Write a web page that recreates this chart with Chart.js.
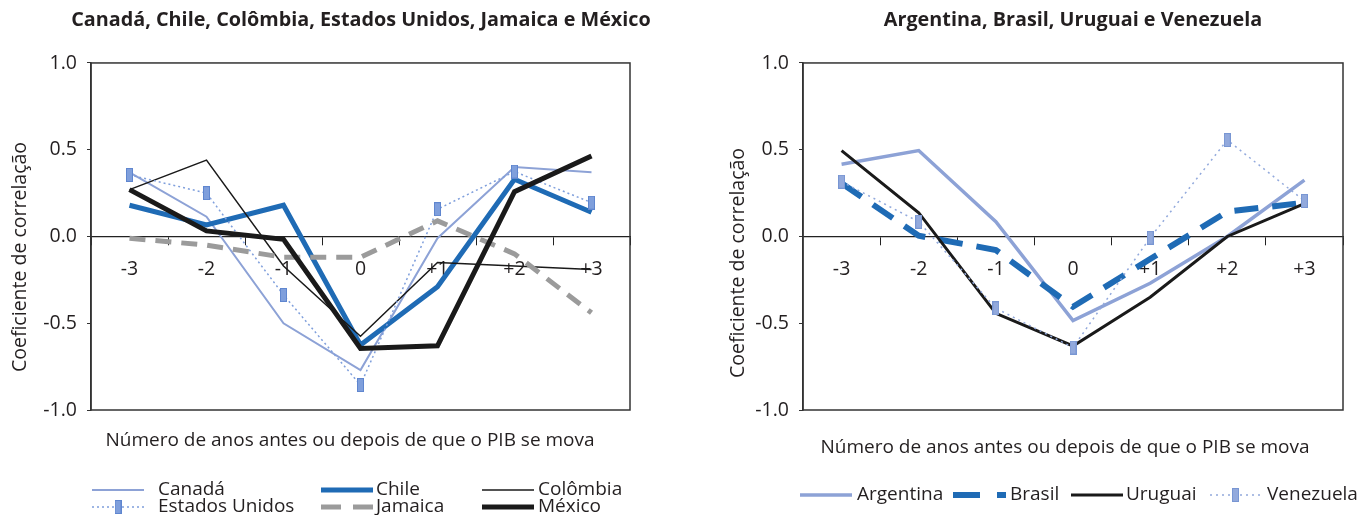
<!DOCTYPE html>
<html><head><meta charset="utf-8">
<script src="https://cdn.jsdelivr.net/npm/chart.js@4.4.1/dist/chart.umd.min.js"></script>
<style>
html,body{margin:0;padding:0;background:#fff;overflow:hidden;width:1360px;height:515px;position:relative;}
#left{position:absolute;left:0;top:0;}
#right{position:absolute;left:680px;top:0;}
</style></head><body>
<canvas id="left" width="722" height="515"></canvas>
<canvas id="right" width="786" height="515"></canvas>
<script>
// ---- data ----
const categories = ['-3', '-2', '-1', '0', '+1', '+2', '+3'];
const yTickValues = [-1, -0.5, 0, 0.5, 1];

const titleLeft = 'Canadá, Chile, Colômbia, Estados Unidos, Jamaica e México';
const titleRight = 'Argentina, Brasil, Uruguai e Venezuela';
const yAxisTitle = 'Coeficiente de correlação';
const xAxisTitle = 'Número de anos antes ou depois de que o PIB se mova';

const canada       = [0.37, 0.114, -0.50, -0.77, -0.01, 0.40, 0.37];
const chile        = [0.18, 0.066, 0.18, -0.625, -0.29, 0.33, 0.14];
const colombia     = [0.27, 0.44, -0.17, -0.575, -0.15, -0.17, -0.19];
const estadosUnidos= [0.355, 0.25, -0.337, -0.856, 0.157, 0.374, 0.195];
const jamaica      = [-0.01, -0.05, -0.12, -0.12, 0.09, -0.10, -0.44];
const mexico       = [0.27, 0.032, -0.016, -0.645, -0.63, 0.258, 0.464];

const argentina    = [0.416, 0.495, 0.085, -0.485, -0.27, 0.0, 0.325];
const brasil       = [0.307, 0.004, -0.078, -0.405, -0.13, 0.143, 0.195];
const uruguai      = [0.495, 0.137, -0.443, -0.631, -0.35, 0.0, 0.19];
const venezuela    = [0.316, 0.085, -0.414, -0.64, -0.007, 0.556, 0.205];

// ---- styling ----
const FONT = '"Open Sans", "DejaVu Sans", sans-serif';
const TXT = '#231f20';
const LIGHT = '#8da2d6';
const BLUE = '#1f6bb5';
const GRAY = '#9b9b9b';
const BLACK = '#1a1a1a';

function rectMarker(fill, stroke, w, h) {
  const c = document.createElement('canvas');
  c.width = w; c.height = h;
  const g = c.getContext('2d');
  g.fillStyle = fill; g.fillRect(0, 0, w, h);
  g.strokeStyle = stroke; g.lineWidth = 1; g.strokeRect(0.5, 0.5, w - 1, h - 1);
  return c;
}
const markerLeft = rectMarker('#7f9fdc', '#5f86cf', 7, 14);
const markerRight = rectMarker('#92a9dc', '#7896d3', 7, 14);

function line(label, data, color, width, dash, extra) {
  return Object.assign({
    label, data, borderColor: color, backgroundColor: color, borderWidth: width,
    borderDash: dash || [], pointRadius: 0, pointHoverRadius: 0, tension: 0, fill: false,
    borderJoinStyle: 'miter', borderCapStyle: 'butt'
  }, extra || {});
}

const framePlugin = {
  id: 'frame',
  beforeDatasetsDraw(chart) {
    const a = chart.chartArea, ctx = chart.ctx;
    ctx.save();
    ctx.strokeStyle = '#333'; ctx.lineWidth = 1.5;
    ctx.strokeRect(a.left, a.top, a.right - a.left, a.bottom - a.top);
    ctx.restore();
  }
};

const textPlugin = {
  id: 'extraText',
  afterDraw(chart, args, o) {
    const ctx = chart.ctx;
    ctx.save();
    ctx.fillStyle = TXT;
    ctx.textAlign = 'center'; ctx.textBaseline = 'middle';
    ctx.font = '19px ' + FONT;
    ctx.fillText(o.xTitle.text, o.xTitle.x, o.xTitle.y);
    ctx.translate(o.yTitle.x, o.yTitle.y);
    ctx.rotate(-Math.PI / 2);
    ctx.font = '19.5px ' + FONT;
    ctx.fillText(o.yTitle.text, 0, 0);
    ctx.restore();
  }
};

const legendPlugin = {
  id: 'customLegend',
  afterDraw(chart, args, o) {
    const ctx = chart.ctx;
    ctx.save();
    o.items.forEach(it => {
      const ds = chart.data.datasets[it.dataset];
      ctx.beginPath();
      ctx.strokeStyle = ds.borderColor;
      ctx.lineWidth = ds.borderWidth;
      ctx.setLineDash(it.dash || ds.borderDash || []);
      ctx.moveTo(it.x1, it.y); ctx.lineTo(it.x2, it.y); ctx.stroke();
      ctx.setLineDash([]);
      if (ds.pointStyle && typeof ds.pointStyle === 'object') {
        const m = ds.pointStyle;
        ctx.drawImage(m, (it.x1 + it.x2) / 2 - m.width / 2, it.y - m.height / 2);
      }
      ctx.fillStyle = TXT;
      ctx.font = '19px ' + FONT;
      ctx.textAlign = 'left'; ctx.textBaseline = 'middle';
      ctx.fillText(ds.label, it.tx, it.y);
    });
    ctx.restore();
  }
};

function makeOptions(cfg) {
  return {
    responsive: false,
    animation: false,
    events: [],
    layout: { padding: { left: 0, right: 0, top: 0, bottom: 105 } },
    scales: {
      x: {
        type: 'category',
        labels: categories,
        offset: true,
        position: { y: 0 },
        grid: { display: true, offset: true, drawOnChartArea: false, drawTicks: true, tickLength: 8, color: '#222', lineWidth: 1 },
        border: { display: true, color: '#222', width: 1.3 },
        ticks: { padding: 13, color: TXT, font: { family: FONT, size: 19.5 }, maxRotation: 0, autoSkip: false },
        afterFit(scale) { scale.height = 0; }
      },
      y: {
        min: -1, max: 1,
        position: 'left',
        afterBuildTicks(scale) { scale.ticks = yTickValues.map(v => ({ value: v })); },
        ticks: { padding: 10, color: TXT, font: { family: FONT, size: 19.5 }, callback: v => Number(v).toFixed(1) },
        grid: { display: true, drawOnChartArea: false, drawTicks: true, tickLength: 4, color: '#333' },
        border: { display: true, color: '#333', width: 1.5 },
        afterFit(scale) { scale.width = cfg.yWidth; scale.paddingTop = 0; scale.paddingBottom = 0; }
      },
      spacer: {
        type: 'linear',
        position: 'right',
        min: -1, max: 1,
        ticks: { display: false },
        grid: { display: false },
        border: { display: false },
        afterFit(scale) { scale.width = cfg.rightWidth; scale.paddingTop = 0; scale.paddingBottom = 0; }
      }
    },
    plugins: {
      legend: { display: false },
      tooltip: { enabled: false },
      title: {
        display: true, text: cfg.title, fullSize: true, color: TXT,
        font: { family: FONT, size: 19.8, weight: 'bold' },
        padding: { top: 8, bottom: 31.2 }
      },
      extraText: { xTitle: { text: xAxisTitle, x: cfg.xTitleX, y: cfg.xTitleY }, yTitle: { text: yAxisTitle, x: cfg.yTitleX, y: cfg.yTitleY } },
      customLegend: { items: cfg.legend }
    }
  };
}

new Chart(document.getElementById('left'), {
  type: 'line',
  data: {
    labels: categories,
    datasets: [
      line('Canadá', canada, LIGHT, 2, [], { order: 6 }),
      line('Chile', chile, BLUE, 5, [], { order: 5 }),
      line('Colômbia', colombia, BLACK, 1.5, [], { order: 4 }),
      line('Estados Unidos', estadosUnidos, '#7f9fdc', 1.5, [2, 3], { order: 3, pointStyle: markerLeft, pointRadius: 4 }),
      line('Jamaica', jamaica, GRAY, 5, [16, 10], { order: 2 }),
      line('México', mexico, BLACK, 5, [], { order: 1 })
    ]
  },
  options: makeOptions({
    title: titleLeft, rightWidth: 92, yWidth: 91,
    xTitleX: 350, xTitleY: 441, yTitleX: 20, yTitleY: 257,
    legend: [
      { dataset: 0, x1: 92, x2: 144, y: 490, tx: 158 },
      { dataset: 1, x1: 321, x2: 373, y: 490, tx: 376 },
      { dataset: 2, x1: 482, x2: 534, y: 490, tx: 538 },
      { dataset: 3, x1: 92, x2: 144, y: 507, tx: 158 },
      { dataset: 4, x1: 321, x2: 373, y: 507, tx: 376, dash: [20, 12] },
      { dataset: 5, x1: 482, x2: 534, y: 507, tx: 538 }
    ]
  }),
  plugins: [framePlugin, textPlugin, legendPlugin]
});

new Chart(document.getElementById('right'), {
  type: 'line',
  data: {
    labels: categories,
    datasets: [
      line('Argentina', argentina, LIGHT, 3.5, [], { order: 4 }),
      line('Brasil', brasil, BLUE, 6, [24, 14], { order: 3 }),
      line('Uruguai', uruguai, BLACK, 3, [], { order: 2 }),
      line('Venezuela', venezuela, '#92a9dc', 1.5, [2, 4], { order: 1, pointStyle: markerRight, pointRadius: 4 })
    ]
  },
  options: makeOptions({
    title: titleRight, rightWidth: 123, yWidth: 123,
    xTitleX: 385, xTitleY: 448, yTitleX: 58, yTitleY: 263,
    legend: [
      { dataset: 0, x1: 120, x2: 172, y: 495, tx: 177 },
      { dataset: 1, x1: 273, x2: 326, y: 495, tx: 330, dash: [27, 17] },
      { dataset: 2, x1: 391, x2: 443, y: 495, tx: 446 },
      { dataset: 3, x1: 530, x2: 581, y: 495, tx: 587 }
    ]
  }),
  plugins: [framePlugin, textPlugin, legendPlugin]
});
</script>
</body></html>
